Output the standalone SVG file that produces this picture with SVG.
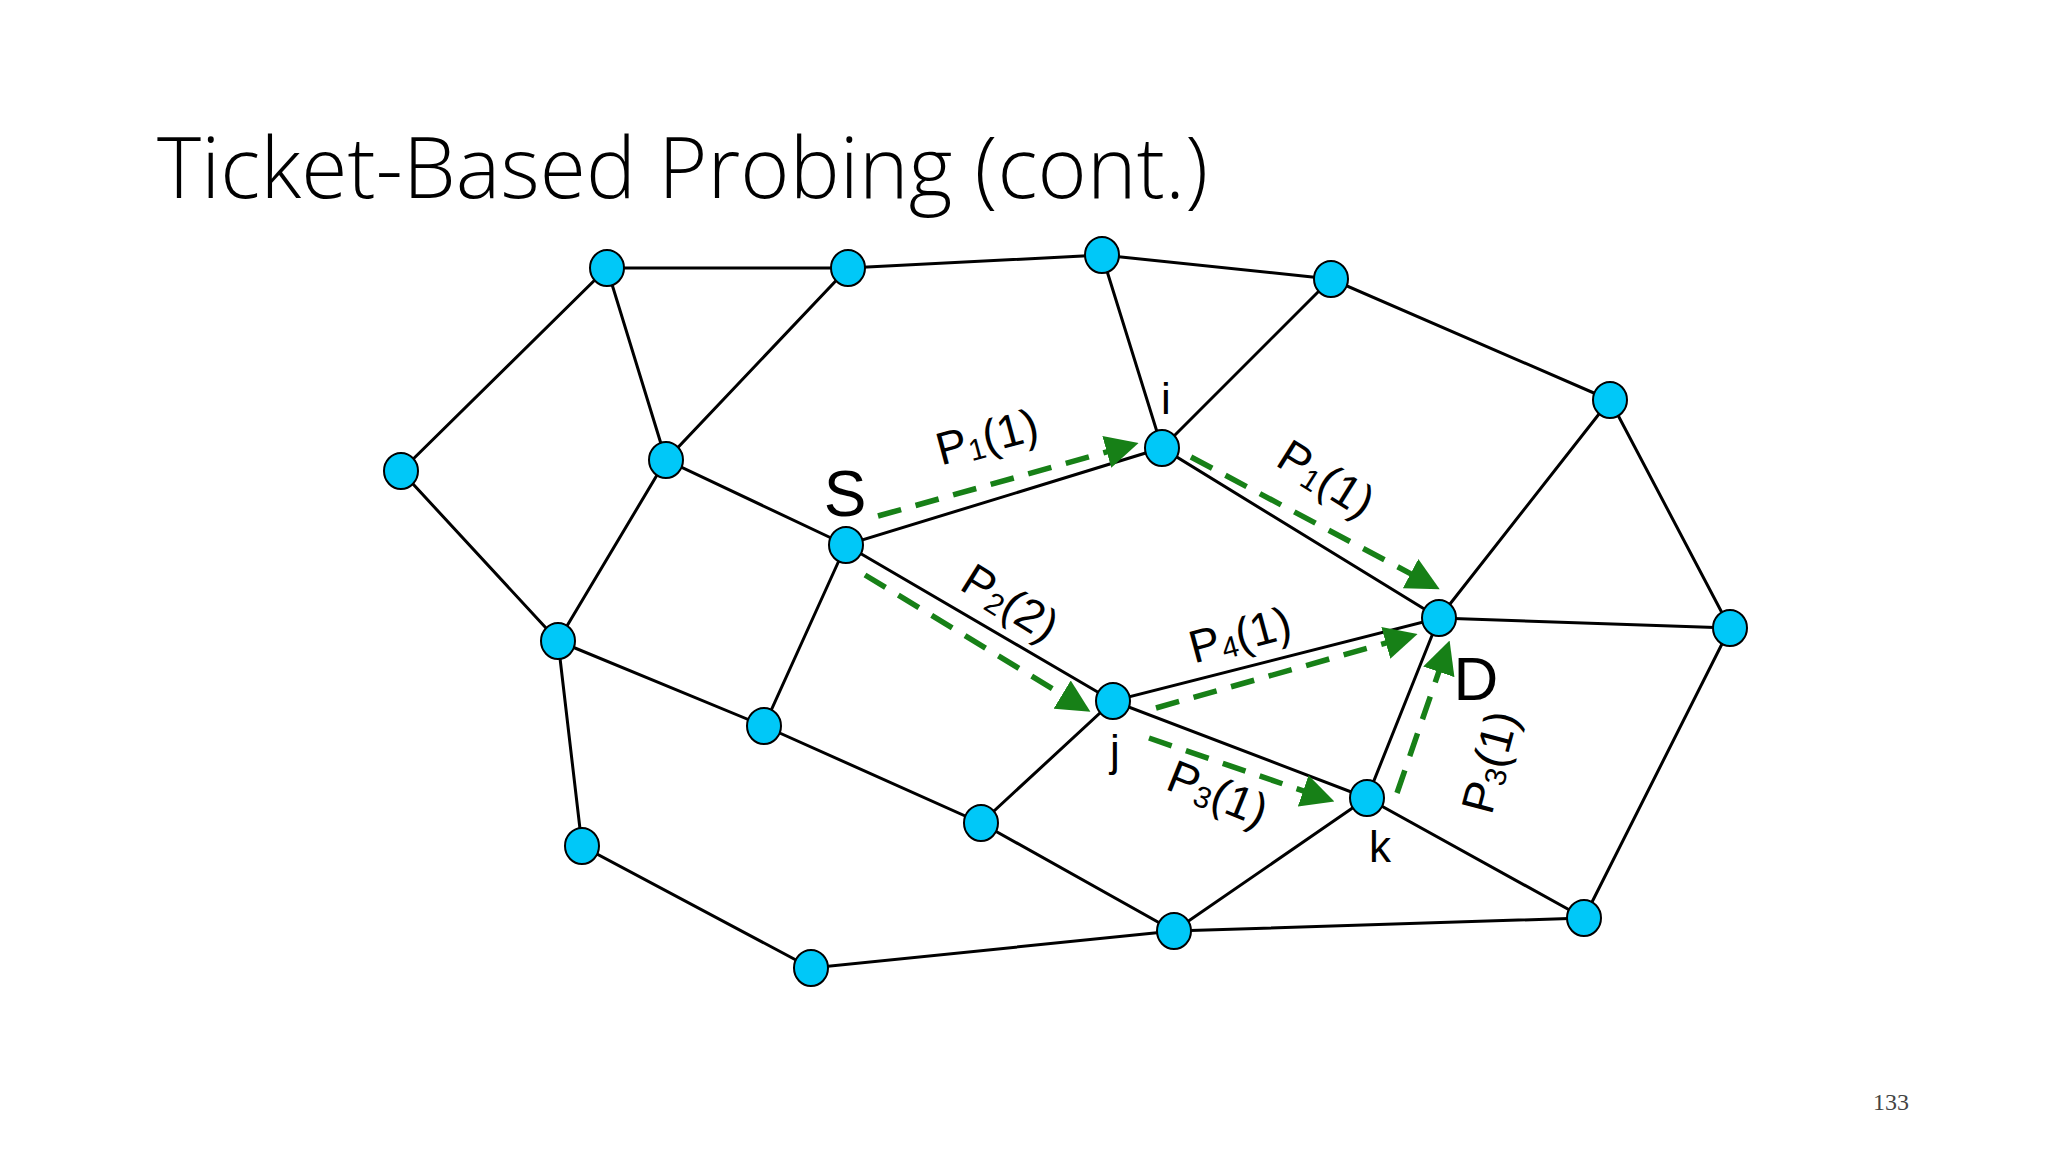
<svg xmlns="http://www.w3.org/2000/svg" width="2048" height="1152" viewBox="0 0 2048 1152">
<style>
.e{stroke:#000;stroke-width:3;fill:none}
.n{fill:#00c8f8;stroke:#000;stroke-width:2}
.g{stroke:#178017;stroke-width:5.5;stroke-dasharray:24 15;fill:none}
.l{font-family:"Liberation Sans",Arial,sans-serif;fill:#000}
.p{font-family:"Liberation Sans",Arial,sans-serif;font-size:46px;fill:#000}
.s{font-size:30px}
</style>
<defs><marker id="ah" markerWidth="6" markerHeight="6" refX="4" refY="3" orient="auto" markerUnits="strokeWidth"><path d="M0,0 L6,3 L0,6 z" fill="#178017"/></marker></defs>
<rect width="2048" height="1152" fill="#fff"/>
<text x="157" y="198" font-family="'Open Sans',sans-serif" font-weight="300" font-size="84" textLength="1051" fill="#000">Ticket-Based Probing (cont.)</text>
<text x="1873" y="1110" font-family="'Liberation Serif',serif" font-size="24" fill="#444">133</text>
<g id="edges">
<path class="e" d="M607,268L848,268L1102,255L1331,279L1610,400M401,471L607,268L666,460L848,268M1102,255L1162,448L1331,279M1610,400L1439,618M1610,400L1730,628M401,471L558,641L666,460L846,545L1162,448L1439,618M846,545L1113,701L1439,618L1730,628M846,545L764,726L558,641M1439,618L1367,798L1113,701L981,823L764,726M558,641L582,846L811,968L1174,931L1584,918L1730,628M981,823L1174,931L1367,798L1584,918"/>
</g>
<g id="arrows">
<line class="g" x1="878" y1="516" x2="1128" y2="446" marker-end="url(#ah)"/>
<line class="g" x1="1191" y1="457" x2="1430" y2="584" marker-end="url(#ah)"/>
<line class="g" x1="865" y1="575" x2="1081" y2="706" marker-end="url(#ah)"/>
<line class="g" x1="1156" y1="708" x2="1407" y2="637" marker-end="url(#ah)"/>
<line class="g" x1="1149" y1="738" x2="1324" y2="798" marker-end="url(#ah)"/>
<line class="g" x1="1397" y1="793" x2="1446" y2="651" marker-end="url(#ah)"/>
</g>
<g id="nodes">
<ellipse id="n1" class="n" cx="607" cy="268" rx="17" ry="18"/>
<ellipse id="n2" class="n" cx="848" cy="268" rx="17" ry="18"/>
<ellipse id="n3" class="n" cx="1102" cy="255" rx="17" ry="18"/>
<ellipse id="n4" class="n" cx="1331" cy="279" rx="17" ry="18"/>
<ellipse id="n5" class="n" cx="1610" cy="400" rx="17" ry="18"/>
<ellipse id="n6" class="n" cx="401" cy="471" rx="17" ry="18"/>
<ellipse id="n7" class="n" cx="666" cy="460" rx="17" ry="18"/>
<ellipse id="i" class="n" cx="1162" cy="448" rx="17" ry="18"/>
<ellipse id="S" class="n" cx="846" cy="545" rx="17" ry="18"/>
<ellipse id="n10" class="n" cx="558" cy="641" rx="17" ry="18"/>
<ellipse id="D" class="n" cx="1439" cy="618" rx="17" ry="18"/>
<ellipse id="n12" class="n" cx="1730" cy="628" rx="17" ry="18"/>
<ellipse id="j" class="n" cx="1113" cy="701" rx="17" ry="18"/>
<ellipse id="n14" class="n" cx="764" cy="726" rx="17" ry="18"/>
<ellipse id="k" class="n" cx="1367" cy="798" rx="17" ry="18"/>
<ellipse id="n16" class="n" cx="981" cy="823" rx="17" ry="18"/>
<ellipse id="n17" class="n" cx="582" cy="846" rx="17" ry="18"/>
<ellipse id="n18" class="n" cx="1584" cy="918" rx="17" ry="18"/>
<ellipse id="n19" class="n" cx="1174" cy="931" rx="17" ry="18"/>
<ellipse id="n20" class="n" cx="811" cy="968" rx="17" ry="18"/>
</g>
<g id="labels">
<text class="l" x="845" y="516" font-size="64" text-anchor="middle">S</text>
<text class="l" x="1166" y="414" font-size="44" text-anchor="middle">i</text>
<text class="l" x="1115" y="766" font-size="44" text-anchor="middle">j</text>
<text class="l" x="1380" y="862" font-size="44" text-anchor="middle">k</text>
<text class="l" x="1476" y="700" font-size="62" text-anchor="middle">D</text>
<text class="p" text-anchor="middle" transform="translate(991,452) rotate(-15)">P<tspan class="s" dy="4">1</tspan><tspan dy="-4">(1)</tspan></text>
<text class="p" text-anchor="middle" transform="translate(1318,492) rotate(32)">P<tspan class="s" dy="4">1</tspan><tspan dy="-4">(1)</tspan></text>
<text class="p" text-anchor="middle" transform="translate(1002,616) rotate(32)">P<tspan class="s" dy="4">2</tspan><tspan dy="-4">(2)</tspan></text>
<text class="p" text-anchor="middle" transform="translate(1244,650) rotate(-15)">P<tspan class="s" dy="4">4</tspan><tspan dy="-4">(1)</tspan></text>
<text class="p" text-anchor="middle" transform="translate(1212,808) rotate(22)">P<tspan class="s" dy="4">3</tspan><tspan dy="-4">(1)</tspan></text>
<text class="p" text-anchor="middle" transform="translate(1505,766) rotate(-75)">P<tspan class="s" dy="4">3</tspan><tspan dy="-4">(1)</tspan></text>
</g>
</svg>
